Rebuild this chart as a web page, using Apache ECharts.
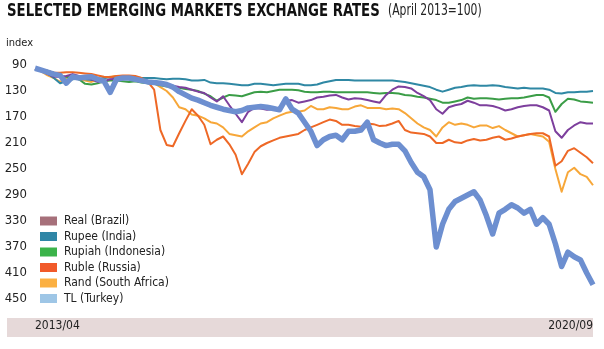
<!DOCTYPE html>
<html>
<head>
<meta charset="utf-8">
<script src="https://cdn.jsdelivr.net/npm/echarts@6/dist/echarts.min.js"></script>
<style>
  html, body { margin: 0; padding: 0; background: #fff; }
  #chart { width: 604px; height: 349px; }
</style>
</head>
<body>
<div id="chart"></div>
<script>
// Monthly index values, April 2013 = 100 (local currency per US dollar)
const months = [];
for (let y = 2013, m = 4; y < 2020 || (y === 2020 && m <= 9); m++) {
  if (m > 12) { m = 1; y++; }
  months.push(y + '/' + String(m).padStart(2, '0'));
}

const real = [
  96, 100, 106, 110, 116, 110, 106, 112, 114, 116,
  113, 110, 108, 107, 107, 107, 109, 112, 117, 118,
  124, 130, 140, 155, 158, 166, 168, 172, 178, 180,
  186, 196, 198, 200, 192, 186, 180, 178, 172, 168,
  164, 162, 162, 160, 153, 158, 158, 155, 156, 158,
  158, 154, 152, 156, 156, 156, 158, 157, 158, 164,
  172, 180, 186, 190, 200, 186, 178, 182, 180, 182,
  186, 183, 183, 187, 184, 190, 195, 200, 198, 196,
  198, 200, 208, 250, 285, 255, 248, 258, 262, 275
];
const rupee = [
  96, 98, 103, 110, 118, 115, 112, 111, 112, 113,
  112, 110, 109, 108, 107, 108, 109, 110, 110, 110,
  111, 112, 111, 111, 112, 114, 114, 113, 117, 118,
  118, 119, 120, 121, 121, 119, 119, 120, 121, 120,
  119, 119, 119, 121, 121, 120, 117, 115, 113, 113,
  113, 114, 114, 114, 114, 114, 114, 114, 115, 116,
  118, 120, 122, 124, 128, 131, 128, 125, 124, 122,
  121, 122, 122, 121, 122, 124, 125, 126, 125, 126,
  126, 126, 128, 133, 134, 132, 132, 131, 131, 130
];
const rupiah = [
  96, 97, 99, 102, 108, 108, 110, 112, 119, 120,
  118, 115, 114, 114, 115, 116, 115, 117, 118, 119,
  121, 123, 124, 125, 127, 128, 130, 134, 138, 145,
  140, 136, 137, 138, 135, 132, 131, 132, 130, 128,
  128, 128, 129, 131, 132, 132, 131, 131, 132, 132,
  132, 132, 132, 132, 133, 134, 133, 133, 134, 136,
  137, 139, 140, 142, 144, 148, 148, 146, 144, 140,
  142, 141, 141, 142, 143, 142, 141, 141, 140, 138,
  136, 136, 140, 162, 150, 142, 143, 146, 147, 148
];
const ruble = [
  96, 97, 99, 102, 102, 101, 101, 102, 103, 104,
  106, 108, 109, 107, 106, 106, 107, 110, 116, 128,
  190, 213, 215, 195, 176, 158, 168, 182, 212, 205,
  200, 212, 228, 258, 242, 224, 215, 210, 206, 202,
  200, 198, 196, 190, 186, 182, 178, 174, 176, 182,
  182, 184, 185, 180, 181, 184, 183, 180, 176, 190,
  194, 195, 196, 200, 210, 210, 205, 209, 210, 206,
  204, 206, 205, 202, 200, 205, 203, 200, 198, 196,
  195, 195, 200, 245, 238, 222, 218, 225, 232, 241
];
const rand = [
  96, 99, 104, 108, 108, 107, 104, 107, 109, 112,
  116, 115, 112, 111, 111, 112, 111, 113, 115, 117,
  119, 121, 122, 124, 125, 128, 131, 133, 140, 146,
  138, 152, 165, 178, 162, 156, 157, 159, 158, 156,
  145, 144, 148, 146, 144, 140, 139, 137, 136, 140,
  143, 141, 142, 144, 146, 148, 136, 128, 123, 124,
  126, 133, 138, 144, 158, 165, 155, 152, 150, 145,
  148, 152, 152, 153, 156, 160, 158, 155, 153, 152,
  152, 155, 160, 192, 202, 190, 183, 178, 180, 180
];
const lira = [
  95, 98, 101, 104, 106, 118, 108, 110, 109, 108,
  112, 115, 132, 112, 110, 110, 112, 114, 116, 117,
  118, 120, 124, 131, 136, 141, 144, 148, 152, 155,
  158, 160, 162, 160, 156, 155, 154, 155, 157, 159,
  142, 158, 164, 178, 192, 214, 205, 200, 198, 205,
  192, 192, 190, 178, 205, 210, 214, 212, 212, 222,
  240, 255, 262, 282, 370, 335, 312, 300, 295, 290,
  285, 298, 322, 350, 318, 312, 305, 310, 318, 312,
  335, 325, 335, 365, 400, 378, 385, 390, 410, 428
];

const yTicks = [90, 130, 170, 210, 250, 290, 330, 370, 410, 450];

const FONT = "'Liberation Sans Narrow', 'DejaVu Sans Condensed', 'Liberation Sans', sans-serif";

const seriesDefs = [
  { name: 'Real (Brazil)',          data: real,   line: '#f7a739', key: '#a6707a', width: 2 },
  { name: 'Rupee (India)',          data: rupee,  line: '#2f88a4', key: '#2f86a6', width: 2 },
  { name: 'Rupiah (Indonesia)',     data: rupiah, line: '#3b9d47', key: '#3bb34a', width: 2 },
  { name: 'Ruble (Russia)',         data: ruble,  line: '#ee6826', key: '#f15a2a', width: 2 },
  { name: 'Rand (South Africa)',    data: rand,   line: '#7d3f9d', key: '#fbb042', width: 2 },
  { name: 'TL (Turkey)',            data: lira,   line: '#6d8fd0', key: '#9ec6e6', width: 5.5 }
];

const chart = echarts.init(document.getElementById('chart'), null, { renderer: 'canvas' });

chart.setOption({
  animation: false,
  backgroundColor: '#ffffff',
  graphic: [
    {
      type: 'text',
      x: 7, y: 2,
      scaleX: 0.82,
      style: {
        text: 'SELECTED EMERGING MARKETS EXCHANGE RATES',
        fontFamily: FONT, fontSize: 18, fontWeight: 'bold',
        fill: '#111', verticalAlign: 'top'
      }
    },
    {
      type: 'text',
      x: 388, y: 4,
      scaleX: 0.8,
      style: {
        text: '(April 2013=100)',
        fontFamily: FONT, fontSize: 15,
        fill: '#222', verticalAlign: 'top'
      }
    },
    {
      type: 'rect',
      z: -10,
      shape: { x: 7, y: 318, width: 586, height: 19 },
      style: { fill: '#e6d9d9' }
    }
  ],
  legend: {
    orient: 'vertical',
    left: 35,
    top: 209,
    icon: 'rect',
    itemWidth: 17,
    itemHeight: 9,
    itemGap: 1.5,
    textStyle: { fontFamily: FONT, fontSize: 12, lineHeight: 14, color: '#222', padding: [0, 0, 0, 2] },
    data: seriesDefs.map(s => ({ name: s.name, itemStyle: { color: s.key } }))
  },
  grid: { left: 35, right: 11, top: 65, bottom: 50 },
  xAxis: {
    type: 'category',
    data: months,
    boundaryGap: false,
    axisLine: { show: false },
    axisTick: { show: false },
    splitLine: { show: false },
    axisLabel: {
      interval: (i) => i === 0 || i === months.length - 1,
      alignMinLabel: 'left',
      alignMaxLabel: 'right',
      margin: 21,
      fontFamily: FONT,
      fontSize: 12,
      color: '#222'
    }
  },
  yAxis: {
    type: 'value',
    inverse: true,
    min: yTicks[0],
    max: yTicks[yTicks.length - 1],
    interval: yTicks[1] - yTicks[0],
    name: 'index',
    nameLocation: 'start',
    nameGap: 16,
    nameTextStyle: { fontFamily: FONT, fontSize: 11, color: '#222', align: 'right', padding: [0, 2, 0, 0] },
    axisLine: { show: false },
    axisTick: { show: false },
    splitLine: { show: false },
    axisLabel: { margin: 8, fontFamily: FONT, fontSize: 13, color: '#222' }
  },
  series: seriesDefs.map(s => ({
    name: s.name,
    type: 'line',
    data: s.data,
    symbol: 'none',
    color: s.line,
    lineStyle: { color: s.line, width: s.width, join: 'round' }
  }))
});
</script>
</body>
</html>
